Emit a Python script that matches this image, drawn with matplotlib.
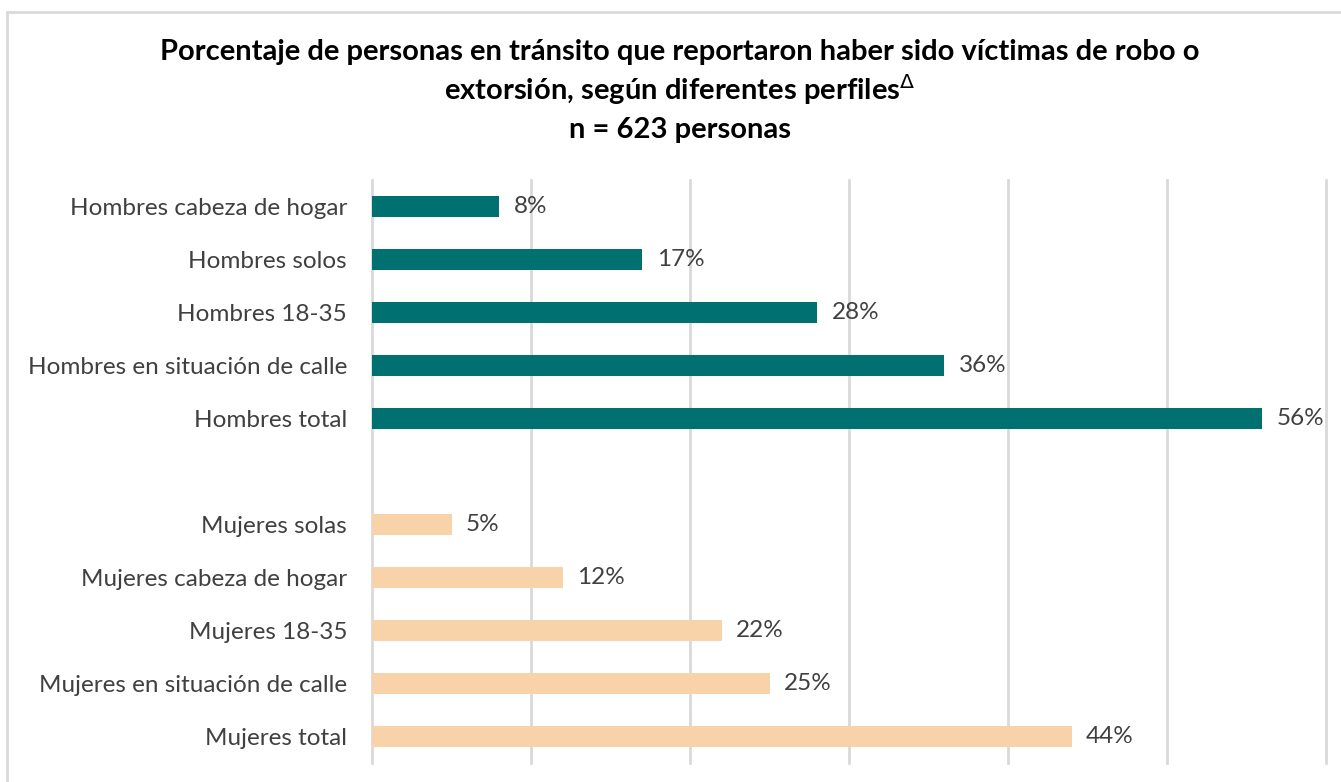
import matplotlib
matplotlib.use('Agg')
import matplotlib.pyplot as plt
from matplotlib.patches import Rectangle

# data (top to bottom as drawn)
hombres_labels = ["Hombres cabeza de hogar", "Hombres solos", "Hombres 18-35",
                  "Hombres en situación de calle", "Hombres total"]
hombres_values = [8, 17, 28, 36, 56]
mujeres_labels = ["Mujeres solas", "Mujeres cabeza de hogar", "Mujeres 18-35",
                  "Mujeres en situación de calle", "Mujeres total"]
mujeres_values = [5, 12, 22, 25, 44]

TEAL = "#007170"
PEACH = "#F8D3A9"
GRID = "#D9D9D9"
TEXT = "#404040"

plt.rcParams['font.family'] = ['Lato', 'DejaVu Sans']

fig = plt.figure(figsize=(13.41, 7.82), dpi=100)
ax = fig.add_axes([372 / 1341, 1 - 763 / 782, (1326 - 372) / 1341, (763 - 180) / 782])

# 11 slots, slot 5 left empty between groups
labels = hombres_labels + [""] + mujeres_labels
values = hombres_values + [None] + mujeres_values
colors = [TEAL] * 5 + [None] + [PEACH] * 5
ypos = list(range(len(labels)))

for y, v, c in zip(ypos, values, colors):
    if v is None:
        continue
    ax.barh(y, v, height=0.38, color=c, zorder=3)
    ax.text(v + 0.9, y, f"{v}%", va="center", ha="left", fontsize=17.5, color=TEXT)

ax.set_ylim(len(labels) - 0.5, -0.5)
ax.set_xlim(0, 60)
ax.set_xticks(range(0, 61, 10))
ax.set_xticklabels([])
ax.set_yticks(ypos)
ax.set_yticklabels(labels, fontsize=17.5, color=TEXT)
ax.tick_params(axis="both", length=0)
ax.tick_params(axis="y", pad=18)
ax.grid(axis="x", color=GRID, linewidth=2, zorder=0)
for gl in ax.get_xgridlines():
    gl.set_clip_on(False)
for s in ax.spines.values():
    s.set_visible(False)

# outer chart border (only top and left edges visible)
fig.patches.append(Rectangle((7 / 1341, -0.1), 1.2, 1 - 12 / 782 + 0.1,
                             transform=fig.transFigure, fill=False,
                             edgecolor=GRID, linewidth=2))

fig.text(0.507, 1 - 52 / 782,
         "Porcentaje de personas en tránsito que reportaron haber sido víctimas de robo o",
         ha="center", va="center", fontsize=21, fontweight="bold", color="black")
fig.text(0.507, 1 - 90 / 782,
         r"extorsión, según diferentes perfiles$^{\Delta}$",
         ha="center", va="center", fontsize=21, fontweight="bold", color="black")
fig.text(0.507, 1 - 130 / 782, "n = 623 personas",
         ha="center", va="center", fontsize=21, fontweight="bold", color="black")

fig.savefig("out.png", dpi=100)
